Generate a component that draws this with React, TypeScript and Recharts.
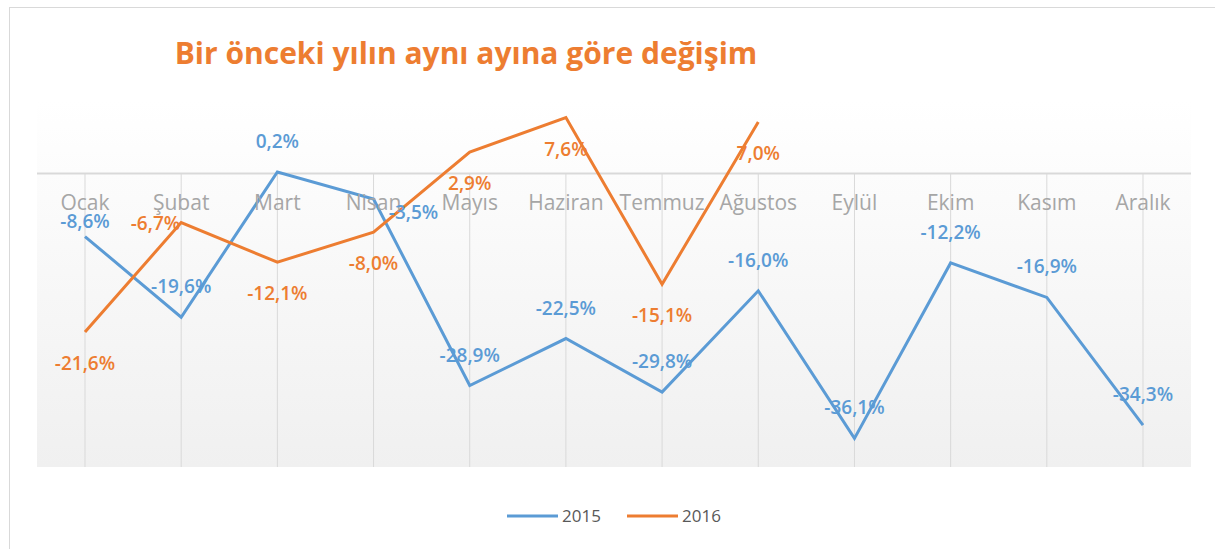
import React from "react";
import {
  LineChart, Line, XAxis, YAxis, CartesianGrid, ReferenceLine, LabelList, Legend,
} from "recharts";

const months = [
  "Ocak", "Şubat", "Mart", "Nisan", "Mayıs", "Haziran",
  "Temmuz", "Ağustos", "Eylül", "Ekim", "Kasım", "Aralık",
];
const values2015 = [-8.6, -19.6, 0.2, -3.5, -28.9, -22.5, -29.8, -16.0, -36.1, -12.2, -16.9, -34.3];
const values2016 = [-21.6, -6.7, -12.1, -8.0, 2.9, 7.6, -15.1, 7.0, null, null, null, null];
const yDomain = [-40, 10];

const data = months.map((m, i) => ({ month: m, y2015: values2015[i], y2016: values2016[i] }));

const BLUE = "#5b9bd5";
const ORANGE = "#ed7d31";
const FONT = "'Open Sans', 'DejaVu Sans', sans-serif";

const fmt = (v: number) => v.toFixed(1).replace(".", ",") + "%";

// label placement tweaks, like the Excel original
function makeLabel(color: string, below: boolean, special: Record<number, [number, number, string]>) {
  return (props: any) => {
    const { x, y, value, index } = props;
    if (value == null) return null;
    let dx = 0;
    let dy = below ? 31 : -31;
    let anchor = "middle";
    if (special[index]) [dx, dy, anchor] = special[index];
    return (
      <text
        x={x + dx}
        y={y + dy}
        fill={color}
        fontSize={19}
        fontWeight={600}
        fontFamily={FONT}
        textAnchor={anchor}
        dominantBaseline="central"
      >
        {fmt(value)}
      </text>
    );
  };
}

const renderTick = (props: any) => {
  const { x, y, payload } = props;
  return (
    <text x={x} y={y} dy={-273} fill="#a6a6a6" fontSize={21} fontFamily={FONT} textAnchor="middle" dominantBaseline="central">
      {payload.value}
    </text>
  );
};

const LegendContent = (props: any) => (
  <div style={{ display: "flex", justifyContent: "center", gap: 26, fontFamily: FONT, fontSize: 17, color: "#595959" }}>
    {props.payload.map((p: any) => (
      <div key={p.value} style={{ display: "flex", alignItems: "center", gap: 4 }}>
        <svg width={51} height={4}>
          <line x1={0} y1={2} x2={51} y2={2} stroke={p.color} strokeWidth={3} />
        </svg>
        <span>{p.value}</span>
      </div>
    ))}
  </div>
);

export default function App() {
  return (
    <div style={{ position: "absolute", left: 0, top: 0, width: 1215, height: 549, background: "#fff", overflow: "hidden" }}>
      <div style={{ position: "absolute", left: 9, top: 7, width: 1230, height: 560, border: "1px solid #d9d9d9" }} />
      <div
        style={{
          position: "absolute", left: 466, top: 32, transform: "translateX(-50%)", whiteSpace: "nowrap",
          color: ORANGE, fontFamily: FONT, fontWeight: 700, fontSize: 30,
        }}
      >
        Bir önceki yılın aynı ayına göre değişim
      </div>
      <div style={{ position: "absolute", left: 0, top: 0 }}>
        <LineChart width={1215} height={549} data={data} margin={{ top: 100, right: 24, bottom: 51, left: 37 }}>
          <defs>
            <linearGradient id="plotBg" x1="0" y1="0" x2="0" y2="1">
              <stop offset="0%" stopColor="#ffffff" />
              <stop offset="100%" stopColor="#f0f0f0" />
            </linearGradient>
          </defs>
          <CartesianGrid horizontal={false} vertical={false} fill="url(#plotBg)" stroke="none" />
          <XAxis
            dataKey="month"
            axisLine={false}
            tickLine={false}
            height={1}
            tick={renderTick}
            interval={0}
            padding={{ left: 48, right: 48 }}
          />
          <YAxis hide domain={yDomain} />
          {months.map((m) => (
            <ReferenceLine key={m} segment={[{ x: m, y: 0 }, { x: m, y: yDomain[0] }]} stroke="#d9d9d9" strokeWidth={1} />
          ))}
          <ReferenceLine y={0} stroke="#d9d9d9" strokeWidth={2} />
          <Legend height={30} wrapperStyle={{ top: 504, bottom: "auto" }} content={<LegendContent />} />
          <Line dataKey="y2015" name="2015" stroke={BLUE} strokeWidth={3} dot={false} isAnimationActive={false}>
            <LabelList dataKey="y2015" content={makeLabel(BLUE, false, { 0: [0, -16, "middle"], 3: [40, 13, "middle"] })} />
          </Line>
          <Line dataKey="y2016" name="2016" stroke={ORANGE} strokeWidth={3} dot={false} isAnimationActive={false}>
            <LabelList dataKey="y2016" content={makeLabel(ORANGE, true, { 1: [-1, 0, "end"] })} />
          </Line>
        </LineChart>
      </div>
    </div>
  );
}
